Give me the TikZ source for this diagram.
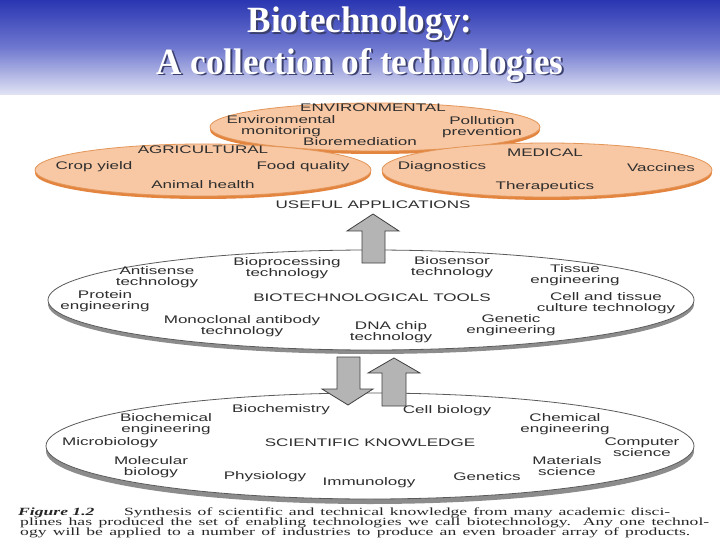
\documentclass[tikz,border=0pt]{standalone}
\usepackage{fontspec}
\setmainfont{Liberation Serif}
\newfontfamily\lab[FakeStretch=1.55]{Liberation Sans}
\newfontfamily\capfont[FakeStretch=1.6]{Liberation Serif}
\newfontfamily\titfont[FakeStretch=0.95]{Liberation Serif}
\definecolor{bannerTop}{HTML}{2A36B2}
\definecolor{bannerMid}{HTML}{6F78CF}
\definecolor{bannerBot}{HTML}{E2E4F4}
\definecolor{titShadow}{HTML}{3A3F6E}
\definecolor{orFill}{HTML}{F8C7A3}
\definecolor{orRim}{HTML}{E3843F}
\definecolor{orLine}{HTML}{E39658}
\definecolor{grRim}{HTML}{8C8C8C}
\definecolor{grLine}{HTML}{5A5A5A}
\definecolor{arrFill}{HTML}{B4B4B4}
\definecolor{txt}{HTML}{2E2E2E}
\newcommand{\shadowtext}[1]{\makebox[0pt][l]{\hspace{1.8pt}\raisebox{-1.8pt}{\textcolor{titShadow}{#1}}}#1}
\begin{document}
\begin{tikzpicture}[x=1pt,y=-1pt,
  lbl/.style={font=\lab\fontsize{11}{10.5}\selectfont, align=center, inner sep=0pt, text=txt},
  orell/.style={fill=orFill, draw=orLine, line width=0.8pt},
  orrim/.style={fill=orRim},
  grell/.style={fill=white, draw=grLine, line width=0.8pt},
  grrim/.style={fill=grRim},
  blockarrow/.style={fill=arrFill, draw=black!75, line width=0.8pt, line join=miter},
  title/.style={font=\titfont\bfseries\fontsize{37}{37}\selectfont, inner sep=0pt, text=white},
  capline/.style={font=\capfont\fontsize{11}{11}\selectfont, anchor=base west, inner sep=0pt, text=black!85}
]
\useasboundingbox (0,0) rectangle (720,540);
\fill[white] (0,0) rectangle (720,540);
% banner
\shade[top color=bannerTop, bottom color=bannerBot, middle color=bannerMid] (0,0) rectangle (720,95);
\node[title] (t1) at (360,25) {\shadowtext{Biotechnology:}};
\node[title] (t2) at (360,66) {\shadowtext{A collection of technologies}};

% ---- top orange ellipses
\fill[orrim] (375,130) ellipse [x radius=165pt, y radius=24pt];
\draw[orell] (375,127) ellipse [x radius=165pt, y radius=24pt];
\fill[orrim] (203,173) ellipse [x radius=168pt, y radius=26pt];
\draw[orell] (203,170) ellipse [x radius=168pt, y radius=26pt];
\fill[orrim] (547,173) ellipse [x radius=165pt, y radius=27pt];
\draw[orell] (547,170) ellipse [x radius=165pt, y radius=27pt];

\node[lbl] (env) at (373,108) {ENVIRONMENTAL};
\node[lbl] (envmon) at (281,126) {Environmental\\monitoring};
\node[lbl] (biorem) at (360,142) {Bioremediation};
\node[lbl] (poll) at (482,127) {Pollution\\prevention};
\node[lbl] (agri) at (203,150) {AGRICULTURAL};
\node[lbl] (crop) at (94,167) {Crop yield};
\node[lbl] (food) at (303,167) {Food quality};
\node[lbl] (animal) at (203,185) {Animal health};
\node[lbl] (med) at (545,153) {MEDICAL};
\node[lbl] (diag) at (442,167) {Diagnostics};
\node[lbl] (vacc) at (661,168) {Vaccines};
\node[lbl] (thera) at (545,187) {Therapeutics};
\node[lbl] (useful) at (373,205) {USEFUL APPLICATIONS};

% ---- middle ellipse
\fill[grrim] (371,304) ellipse [x radius=323pt, y radius=50pt];
\draw[grell] (371,300) ellipse [x radius=323pt, y radius=50pt];
\draw[blockarrow] (362,263) -- (362,231) -- (347,231) -- (373,214) -- (399,231) -- (385,231) -- (385,263) -- cycle;

\node[lbl] (bioproc) at (287,268) {Bioprocessing\\technology};
\node[lbl] (antis) at (157,277) {Antisense\\technology};
\node[lbl] (biosens) at (452,267) {Biosensor\\technology};
\node[lbl] (tissue) at (575,275) {Tissue\\engineering};
\node[lbl] (protein) at (105,301) {Protein\\engineering};
\node[lbl] (tools) at (372,298) {BIOTECHNOLOGICAL TOOLS};
\node[lbl] (cell) at (606,303) {Cell and tissue\\culture technology};
\node[lbl] (mono) at (242,326) {Monoclonal antibody\\technology};
\node[lbl] (genet) at (511,325) {Genetic\\engineering};
\node[lbl] (dna) at (391,332) {DNA chip\\technology};

% ---- bottom ellipse
\fill[grrim] (370,451) ellipse [x radius=324pt, y radius=53pt];
\draw[grell] (370,446) ellipse [x radius=324pt, y radius=53pt];
\draw[blockarrow] (337,357) -- (360,357) -- (360,389) -- (373,389) -- (348,405) -- (322,389) -- (337,389) -- cycle;
\draw[blockarrow] (382,406) -- (382,373) -- (368,373) -- (394,358) -- (420,373) -- (406,373) -- (406,406) -- cycle;

\node[lbl] (biochem) at (281,410) {Biochemistry};
\node[lbl] (cellbio) at (447,411) {Cell biology};
\node[lbl] (biochemeng) at (166,424) {Biochemical\\engineering};
\node[lbl] (chemeng) at (565,424) {Chemical\\engineering};
\node[lbl] (micro) at (110,443) {Microbiology};
\node[lbl] (sci) at (370,443) {SCIENTIFIC KNOWLEDGE};
\node[lbl] (comp) at (642,447) {Computer\\science};
\node[lbl] (molbio) at (151,467) {Molecular\\biology};
\node[lbl] (mat) at (567,466) {Materials\\science};
\node[lbl] (phys) at (265,477) {Physiology};
\node[lbl] (gen) at (487,477) {Genetics};
\node[lbl] (immu) at (369,483) {Immunology};

% ---- caption
\node[capline] (fig) at (18,515) {\bfseries\itshape Figure 1.2};
\node[capline] (cap1) at (124,515) {\hbox to 546pt{Synthesis of scientific and technical knowledge from many academic disci-}};
\node[capline] (cap2) at (20,525) {\hbox to 689pt{plines has produced the set of enabling technologies we call biotechnology. Any one technol-}};
\node[capline] (cap3) at (20,535) {\hbox to 670pt{ogy will be applied to a number of industries to produce an even broader array of products.}};
\end{tikzpicture}
\end{document}
